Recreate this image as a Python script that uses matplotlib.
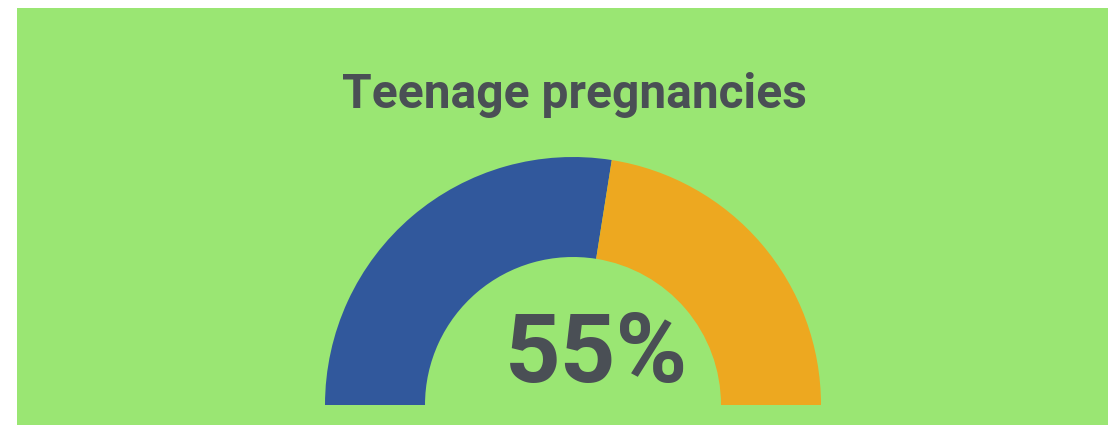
import matplotlib
matplotlib.use('Agg')
import matplotlib.pyplot as plt
from matplotlib.patches import Rectangle

title = 'Teenage pregnancies'
value = 55
labels = ['value', 'rest', 'hidden']
shares = [value, 100 - value, 100]
colors = ['#31589C', '#EDA820', 'none']

bg_green = '#9AE673'
text_color = '#4A4F55'

W, H = 1108, 425
fig = plt.figure(figsize=(W / 100, H / 100), dpi=100)
fig.patch.set_facecolor('white')
ax = fig.add_axes([0, 0, 1, 1])

# green panel (white strip on left and top)
ax.add_patch(Rectangle((17, 0), W - 17, H - 8, facecolor=bg_green, edgecolor='none', zorder=0))

cx, cy = 573, H - 405
outer_r = 248
ring_w = 100

wedges, _ = ax.pie(shares, colors=colors, startangle=180, counterclock=False,
                   radius=outer_r, center=(cx, cy), frame=True,
                   wedgeprops=dict(width=ring_w, linewidth=0))
wedges[2].set_visible(False)
for wd in wedges:
    wd.set_zorder(2)

ax.set_xlim(0, W)
ax.set_ylim(0, H)
ax.set_aspect('equal')
ax.axis('off')

ax.text(574, H - 108, title, ha='center', va='baseline', fontsize=34.5,
        fontweight='bold', family='Roboto', color=text_color, zorder=3)
ax.text(596, H - 382, f'{value}%', ha='center', va='baseline', fontsize=70,
        fontweight='bold', family='Roboto', color=text_color, zorder=3)

fig.savefig('out.png', dpi=100, facecolor=fig.get_facecolor())
